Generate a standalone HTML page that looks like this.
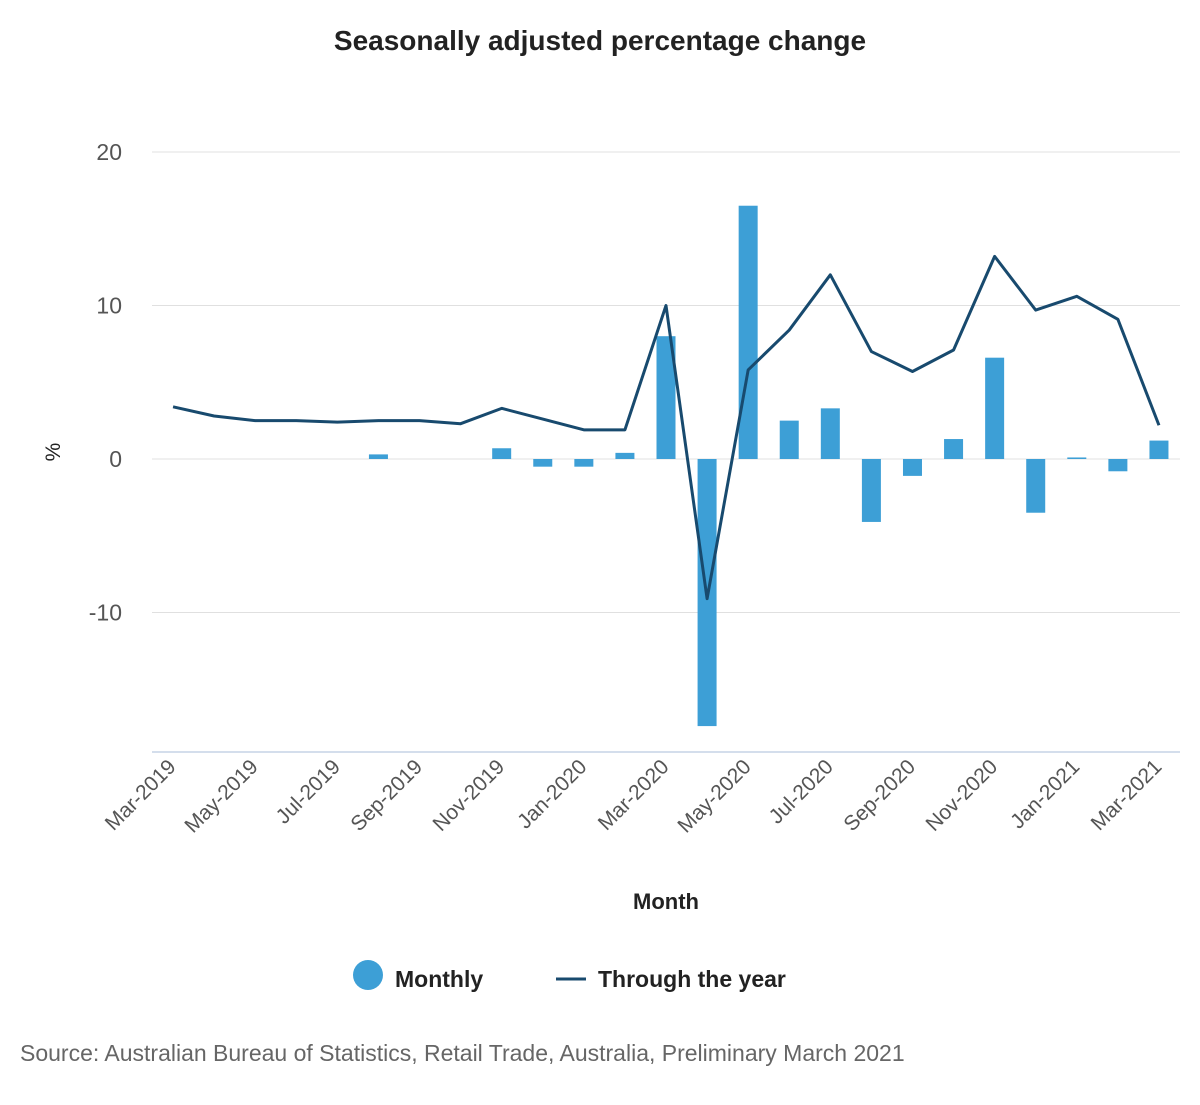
<!DOCTYPE html>
<html><head><meta charset="utf-8"><style>
body{margin:0;background:#fff;font-family:"Liberation Sans","DejaVu Sans",sans-serif;}
</style></head><body>
<svg width="1200" height="1100" xmlns="http://www.w3.org/2000/svg">
<text x="600" y="50" text-anchor="middle" font-size="28" font-weight="bold" fill="#222">Seasonally adjusted percentage change</text>
<g id="grid"></g><g id="bars"></g><g id="line"></g><g id="xlabels"></g>
<text x="60" y="452" text-anchor="middle" font-size="21" fill="#222" transform="rotate(-90 60 452)">%</text>
<text x="666" y="909" text-anchor="middle" font-size="22" font-weight="bold" fill="#222">Month</text>
<g><circle cx="368" cy="975" r="15" fill="#3d9fd6"/><text x="395" y="987" font-size="23" font-weight="bold" fill="#222">Monthly</text></g>
<g><line x1="556" y1="979" x2="586" y2="979" stroke="#184a6e" stroke-width="3"/><text x="598" y="987" font-size="23" font-weight="bold" fill="#222">Through the year</text></g>
<text x="20" y="1061" font-size="23" fill="#666">Source: Australian Bureau of Statistics, Retail Trade, Australia, Preliminary March 2021</text>
</svg>
<script>
const months=["Mar-2019","Apr-2019","May-2019","Jun-2019","Jul-2019","Aug-2019","Sep-2019","Oct-2019","Nov-2019","Dec-2019","Jan-2020","Feb-2020","Mar-2020","Apr-2020","May-2020","Jun-2020","Jul-2020","Aug-2020","Sep-2020","Oct-2020","Nov-2020","Dec-2020","Jan-2021","Feb-2021","Mar-2021"];
const monthly=[0,0,0,0,0,0.3,0,0,0.7,-0.5,-0.5,0.4,8.0,-17.4,16.5,2.5,3.3,-4.1,-1.1,1.3,6.6,-3.5,0.1,-0.8,1.2];
const throughYear=[3.4,2.8,2.5,2.5,2.4,2.5,2.5,2.3,3.3,2.6,1.9,1.9,10.0,-9.1,5.8,8.4,12.0,7.0,5.7,7.1,13.2,9.7,10.6,9.1,2.2];
const yTicks=[20,10,0,-10];
const NS="http://www.w3.org/2000/svg";
const x0=152.5,step=41.08;
const X=i=>x0+step*(i+0.5);
const Y=v=>459-v*15.35;
function mk(t,a,p){const e=document.createElementNS(NS,t);for(const k in a)e.setAttribute(k,a[k]);p.appendChild(e);return e;}
const grid=document.getElementById('grid');
yTicks.forEach(t=>{
 const l=mk('line',{x1:152,x2:1180,y1:Y(t),y2:Y(t),stroke:'#e0e0e0','stroke-width':1},grid);
 
 
 const tx=mk('text',{x:122,y:Y(t)+8,'text-anchor':'end','font-size':23,fill:'#555'},grid);
 tx.textContent=t;
 
 
});
const ax=mk('line',{x1:152,x2:1180,y1:752,y2:752,stroke:'#c6d3e6','stroke-width':1.5},grid);


const bars=document.getElementById('bars');
monthly.forEach((v,i)=>{
 const r=mk('rect',{x:X(i)-9.5,width:19,y:Math.min(Y(v),Y(0)),height:Math.abs(Y(v)-Y(0)),fill:'#3d9fd6'},bars);
 
 
});
const pts=throughYear.map((v,i)=>X(i)+','+Y(v)).join(' ');
const pl=mk('polyline',{points:pts,fill:'none',stroke:'#184a6e','stroke-width':3,'stroke-linejoin':'round'},document.getElementById('line'));


const xl=document.getElementById('xlabels');
months.forEach((m,i)=>{
 if(i%2)return;
 const x=X(i)+4,y=768;
 const t=mk('text',{x:x,y:y,'text-anchor':'end','font-size':21,fill:'#555',transform:`rotate(-45 ${x} ${y})`},xl);
 t.textContent=m;
 
 
});
</script>
</body></html>
